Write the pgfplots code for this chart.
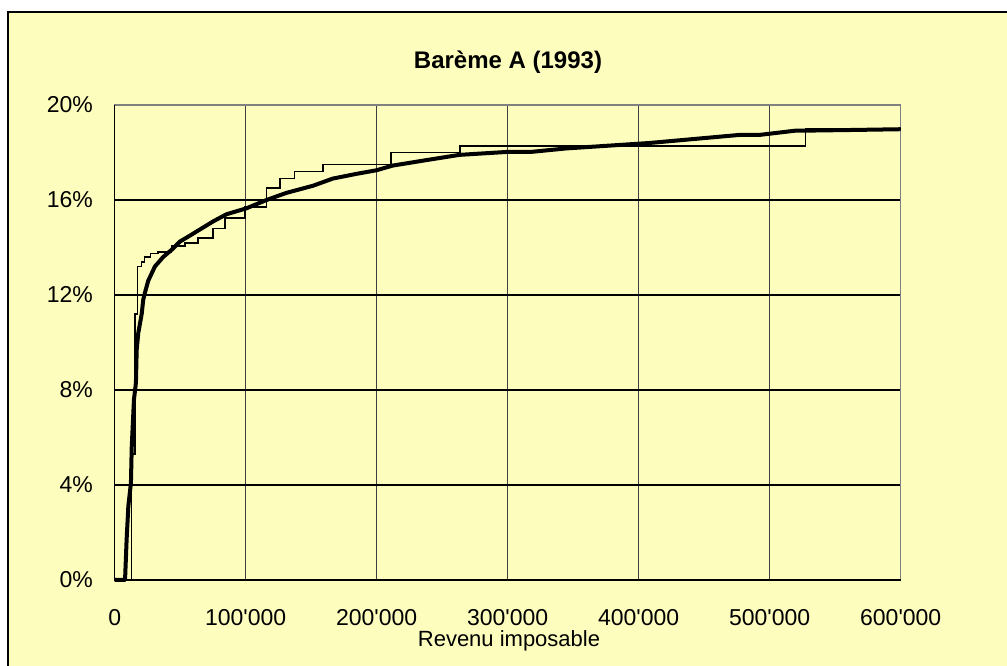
\documentclass[border=0pt]{standalone}
\usepackage{fontspec}
\setmainfont{Liberation Sans}[Ligatures=TeXOff]
\usepackage{pgfplots}
\pgfplotsset{compat=1.18}
\definecolor{bg}{RGB}{253,253,189}
\begin{document}
\begin{tikzpicture}[x=1pt,y=1pt]
\useasboundingbox (0,0) rectangle (1007,666);
\fill[white] (0,0) rectangle (1007,666);
\draw[fill=bg, line width=1.5pt] (8,-10) rectangle (1020,654);
\begin{axis}[
  at={(114.7pt,86pt)}, anchor=south west,
  scale only axis, width=786pt, height=475pt,
  xmin=0, xmax=600, ymin=0, ymax=20,
  axis background/.style={fill=bg},
  axis line style={draw=black!50, line width=1.5pt},
  xtick={0,100,200,300,400,500,600},
  xticklabels={0,100'000,200'000,300'000,400'000,500'000,600'000},
  ytick={0,4,8,12,16,20},
  yticklabels={0\%,4\%,8\%,12\%,16\%,20\%},
  tick style={draw=none},
  grid=major,
  x grid style={draw=black!75, line width=1.3pt},
  y grid style={draw=black, line width=1.3pt},
  tick label style={font=\fontsize{23}{27}\selectfont, inner sep=0pt},
  xticklabel style={anchor=base, yshift=-46pt},
  yticklabel style={anchor=east, xshift=-21.7pt},
  clip=false,
]
\addplot[const plot, black, line width=1.6pt] coordinates {
(0,0) (12.7,0) (12.7,5.3) (15.5,5.3) (15.5,11.2) (17.5,13.2) (20.6,13.4) (22.6,13.6) (27.4,13.75) (33,13.8) (43.4,14.06) (53.6,14.2) (63.7,14.4) (74.9,14.8) (84.1,15.25) (99.3,15.7) (115.9,16.5) (126,16.9) (137.4,17.2) (159,17.5) (211,18.0) (263.7,18.27) (527.4,19.0) (600,19.0)
};
\addplot[black, line width=4pt, line join=round] coordinates {
(0,0) (7.9,0) (9.1,1.7) (10.4,3.1) (12.4,4.1) (13,5.6) (14.7,7.6) (16.2,8.3) (16.8,9.7) (18,10.4) (20.6,11.2) (21.8,11.8) (23.1,12.1) (25.6,12.6) (30.7,13.2) (37,13.6) (43.4,13.9) (49.8,14.25) (57.4,14.5) (75.2,15.1) (85.4,15.4) (100.6,15.65) (115.9,16.0) (131.1,16.3) (151.4,16.6) (166.4,16.9) (184.5,17.1) (199.7,17.25) (212.3,17.45) (240.3,17.7) (263.2,17.9) (301.3,18.03) (318.8,18.03) (344.5,18.17) (408.2,18.4) (476.9,18.74) (492.1,18.74) (519.8,18.92) (527.4,18.92) (565.5,18.95) (600,18.98)
};
\draw[black, line width=1.5pt] (axis cs:0,20) -- (axis cs:0,0) -- (axis cs:600,0);
\end{axis}
\node[anchor=base, inner sep=0pt, font=\fontsize{24}{28}\selectfont\bfseries] at (508,597.5) {Barème A (1993)};
\node[anchor=base, inner sep=0pt, font=\fontsize{22}{26}\selectfont] at (509,19) {Revenu imposable};
\end{tikzpicture}
\end{document}
